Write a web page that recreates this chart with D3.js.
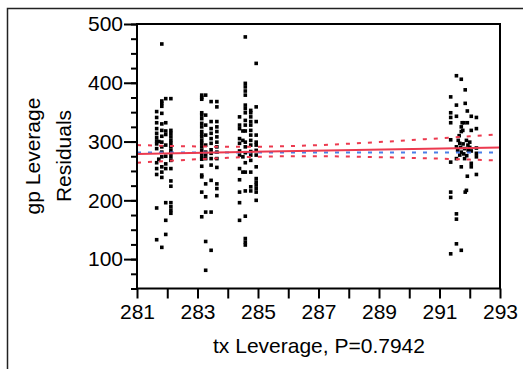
<!DOCTYPE html>
<html lang="en">
<head>
    <meta charset="UTF-8"/>
    <title>Leverage plot</title>
    <script src="https://d3js.org/d3.v7.min.js"></script>
    <style>
        body { margin: 0; background: #fff; }
        text { font-family: "Liberation Sans", Arial, sans-serif; fill: #000; }
    </style>
</head>
<body>
<div class="chart"></div>

<script>

    // leverage residual points, [tx leverage, gp leverage residual]
    const points = [
        // group near 282
        [281.65, 351], [281.65, 341], [281.65, 332], [281.65, 322], [281.65, 314], [281.65, 307], [281.65, 301],
        [281.65, 296], [281.65, 288], [281.65, 264], [281.65, 254], [281.65, 244], [281.65, 187], [281.65, 133],
        [281.82, 466], [281.82, 369], [281.82, 365], [281.82, 360], [281.82, 348], [281.82, 330], [281.82, 319],
        [281.82, 309], [281.82, 299], [281.82, 291], [281.82, 282], [281.82, 274], [281.82, 257], [281.82, 248],
        [281.82, 239], [281.82, 120], [281.72, 300], [281.72, 270],
        [281.95, 373], [281.95, 332], [281.95, 318], [281.95, 312], [281.95, 294], [281.95, 275], [281.95, 262],
        [281.95, 254], [281.95, 196], [281.95, 166], [281.95, 142],
        [282.12, 373], [282.12, 319], [282.12, 314], [282.12, 308], [282.12, 302], [282.12, 297], [282.12, 291],
        [282.12, 285], [282.12, 280], [282.12, 274], [282.12, 268], [282.12, 254], [282.12, 233], [282.12, 224],
        [282.12, 196], [282.12, 189], [282.12, 183], [282.12, 178],
        // group near 283.4
        [283.14, 379], [283.14, 375], [283.14, 372], [283.14, 349], [283.14, 345], [283.14, 339], [283.14, 331],
        [283.14, 325], [283.14, 317], [283.14, 312], [283.14, 308], [283.14, 302], [283.14, 297], [283.14, 291],
        [283.14, 285], [283.14, 280], [283.14, 274], [283.14, 270], [283.14, 258], [283.14, 243], [283.14, 240],
        [283.14, 214], [283.14, 172],
        [283.27, 379], [283.27, 345], [283.27, 328], [283.27, 311], [283.27, 294], [283.27, 282], [283.27, 277],
        [283.27, 271], [283.27, 228], [283.27, 206], [283.27, 180], [283.27, 130], [283.27, 81],
        [283.45, 368], [283.45, 334], [283.45, 322], [283.45, 314], [283.45, 305], [283.45, 297], [283.45, 286],
        [283.45, 280], [283.45, 271], [283.45, 260], [283.45, 234], [283.45, 180], [283.45, 115],
        [283.64, 368], [283.64, 359], [283.64, 334], [283.64, 325], [283.64, 317], [283.64, 308], [283.64, 299],
        [283.64, 291], [283.64, 282], [283.64, 271], [283.64, 256], [283.64, 228], [283.64, 220], [283.64, 208],
        // group near 284.6
        [284.39, 342], [284.39, 328], [284.39, 322], [284.39, 305], [284.39, 297], [284.39, 284], [284.39, 277],
        [284.39, 254], [284.39, 235], [284.39, 214], [284.39, 196], [284.39, 166],
        [284.50, 318], [284.50, 302], [284.50, 274], [284.50, 248],
        [284.58, 478], [284.58, 399], [284.58, 393], [284.58, 386], [284.58, 379], [284.58, 362], [284.58, 356],
        [284.58, 349], [284.58, 336], [284.58, 328], [284.58, 318], [284.58, 299], [284.58, 291], [284.58, 281],
        [284.58, 264], [284.58, 248], [284.58, 216], [284.58, 173], [284.58, 135], [284.58, 129], [284.58, 124],
        [284.76, 353], [284.76, 349], [284.76, 342], [284.76, 334], [284.76, 328], [284.76, 319], [284.76, 311],
        [284.76, 302], [284.76, 294], [284.76, 283], [284.76, 277], [284.76, 268], [284.76, 248], [284.76, 223],
        [284.76, 216],
        [284.94, 433], [284.94, 359], [284.94, 334], [284.94, 311], [284.94, 299], [284.94, 294], [284.94, 285],
        [284.94, 277], [284.94, 257], [284.94, 237], [284.94, 231], [284.94, 226], [284.94, 220], [284.94, 214],
        [284.94, 200],
        // group near 291.8
        [291.56, 412], [291.72, 406], [291.85, 388], [291.37, 376], [291.56, 362], [291.85, 365], [291.37, 349],
        [291.92, 352], [291.37, 341], [291.37, 332], [291.56, 343], [291.75, 332], [291.81, 332], [291.92, 332],
        [292.05, 343], [292.22, 341], [291.72, 325], [291.77, 319], [291.72, 317], [292.05, 319], [292.22, 322],
        [291.37, 303], [291.62, 302], [291.67, 297], [291.56, 291], [291.89, 302], [292.00, 299], [291.94, 294],
        [291.83, 288], [292.00, 290], [292.22, 289], [291.72, 282], [291.67, 277], [291.56, 271], [291.83, 271],
        [292.05, 284], [292.22, 280], [292.22, 274], [291.37, 265], [291.72, 257], [292.05, 263], [292.05, 257],
        [291.92, 241], [292.22, 244], [291.89, 217], [291.85, 214], [291.37, 214], [291.37, 205], [291.56, 177],
        [291.56, 168], [291.56, 126], [291.72, 115], [291.37, 109], [291.65, 310], [291.78, 296], [291.70, 290],
        [291.95, 285], [291.80, 279], [291.90, 276], [291.60, 285]
    ];

    // fitted line, confidence curves, mean line
    const fitX = [281, 293];
    const fitY = [279, 290];
    const bandX = [281, 282, 283, 284, 285, 286, 287, 288, 289, 290, 291, 292, 293];
    const bandUpper = [294, 292.7, 291.7, 291.2, 291.3, 292.2, 293.9, 296.3, 299.1, 302.3, 305.5, 308.9, 312.3];
    const bandLower = [264, 267.1, 269.9, 272.4, 274.1, 275, 275.1, 274.5, 273.5, 272.3, 270.9, 269.3, 267.7];
    const meanY = 281.5;

    const xTicks = d3.range(281, 294);
    const yTicks = [100, 200, 300, 400, 500];
    const yMinor = d3.range(50, 501, 25);

    const width = 523, height = 369;
    const plot = {left: 137, right: 500, top: 24, bottom: 288.5};

    const svg = d3.select(".chart")
        .append("svg")
        .attr("width", width)
        .attr("height", height);

    // outer frame, runs off the right and bottom
    svg.append("rect")
        .attr("x", 7.5)
        .attr("y", 8.5)
        .attr("width", 600)
        .attr("height", 500)
        .attr("fill", "none")
        .attr("stroke", "#222")
        .attr("stroke-width", 1.5);

    const x = d3.scaleLinear().domain([281, 293]).range([plot.left, plot.right]);
    const y = d3.scaleLinear().domain([50, 500]).range([plot.bottom, plot.top]);

    // X axis
    const xAxis = svg.append("g")
        .attr("transform", `translate(0, ${plot.bottom})`)
        .call(d3.axisBottom(x)
            .tickValues(xTicks)
            .tickSize(10)
            .tickSizeOuter(0)
            .tickPadding(6)
            .tickFormat(d => d % 2 === 1 ? d : ""));
    xAxis.select(".domain").remove();
    xAxis.selectAll("line").attr("stroke", "#000").attr("stroke-width", 2);
    xAxis.selectAll("text").style("font-size", "21px").style("font-family", "Liberation Sans, Arial, sans-serif");

    // Y axis minor ticks
    const yMinorAxis = svg.append("g")
        .attr("transform", `translate(${plot.left}, 0)`)
        .call(d3.axisLeft(y).tickValues(yMinor).tickSize(6).tickFormat(""));
    yMinorAxis.select(".domain").remove();
    yMinorAxis.selectAll("line").attr("stroke", "#000").attr("stroke-width", 2);

    // Y axis major
    const yAxis = svg.append("g")
        .attr("transform", `translate(${plot.left}, 0)`)
        .call(d3.axisLeft(y).tickValues(yTicks).tickSize(13).tickSizeOuter(0).tickPadding(1));
    yAxis.select(".domain").remove();
    yAxis.selectAll("line").attr("stroke", "#000").attr("stroke-width", 2);
    yAxis.selectAll("text").style("font-size", "21px").style("font-family", "Liberation Sans, Arial, sans-serif");

    svg.append("clipPath").attr("id", "plotClip")
        .append("rect")
        .attr("x", plot.left)
        .attr("y", plot.top)
        .attr("width", plot.right - plot.left)
        .attr("height", plot.bottom - plot.top);

    const g = svg.append("g").attr("clip-path", "url(#plotClip)");

    // points
    g.append("g")
        .selectAll("rect")
        .data(points)
        .join("rect")
        .attr("x", d => x(d[0]) - 1.8)
        .attr("y", d => y(d[1]) - 1.8)
        .attr("width", 3.6)
        .attr("height", 3.6)
        .attr("fill", "#000");

    // mean line
    g.append("line")
        .attr("x1", x(281)).attr("x2", x(293))
        .attr("y1", y(meanY)).attr("y2", y(meanY))
        .attr("stroke", "#4a7fe8")
        .attr("stroke-width", 2)
        .attr("stroke-dasharray", "4,7");

    // confidence curves
    const curve = d3.line().curve(d3.curveMonotoneX);
    [bandUpper, bandLower].forEach(band => {
        g.append("path")
            .attr("d", curve(bandX.map((v, i) => [x(v), y(band[i])])))
            .attr("fill", "none")
            .attr("stroke", "#ec3a4f")
            .attr("stroke-width", 2)
            .attr("stroke-dasharray", "4,7");
    });

    // fit line
    g.append("line")
        .attr("x1", x(fitX[0])).attr("x2", x(fitX[1]))
        .attr("y1", y(fitY[0])).attr("y2", y(fitY[1]))
        .attr("stroke", "#ec3a4f")
        .attr("stroke-width", 2);

    // plot frame
    svg.append("rect")
        .attr("x", plot.left)
        .attr("y", plot.top)
        .attr("width", plot.right - plot.left)
        .attr("height", plot.bottom - plot.top)
        .attr("fill", "none")
        .attr("stroke", "#000")
        .attr("stroke-width", 2);

    // axis titles
    svg.append("text")
        .attr("x", 319)
        .attr("y", 353)
        .attr("text-anchor", "middle")
        .style("font-size", "21px")
        .text("tx Leverage, P=0.7942");

    const yTitle = svg.append("text")
        .attr("transform", "translate(0, 156) rotate(-90)")
        .attr("text-anchor", "middle")
        .style("font-size", "21px");
    yTitle.append("tspan").attr("x", 0).attr("y", 40).text("gp Leverage");
    yTitle.append("tspan").attr("x", 0).attr("y", 71).text("Residuals");

</script>
</body>
</html>
